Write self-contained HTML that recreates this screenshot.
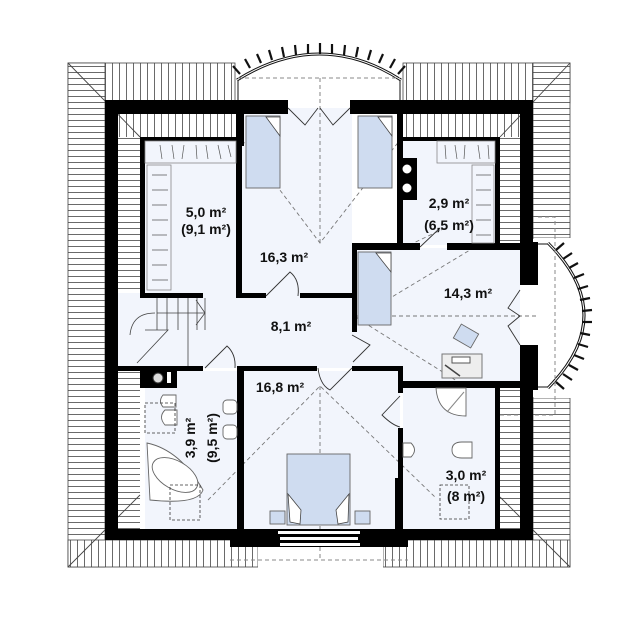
<!DOCTYPE html>
<html><head><meta charset="utf-8"><style>
html,body{margin:0;padding:0;background:#fff}
svg{display:block}
text{font-family:"Liberation Sans",sans-serif;font-weight:bold;font-size:14px;fill:#111}
</style></head><body>
<svg width="640" height="617" viewBox="0 0 640 617" xmlns="http://www.w3.org/2000/svg">
<defs>
<pattern id="vh" width="7" height="10" patternUnits="userSpaceOnUse"><rect width="7" height="10" fill="#fff"/><line x1="0.5" y1="0" x2="0.5" y2="10" stroke="#444" stroke-width="0.8"/></pattern>
<pattern id="hh" width="10" height="6" patternUnits="userSpaceOnUse"><rect width="10" height="6" fill="#fff"/><line x1="0" y1="0.5" x2="10" y2="0.5" stroke="#444" stroke-width="0.8"/></pattern>
</defs>
<rect x="68" y="63" width="167" height="40" fill="url(#vh)" stroke="#444" stroke-width="0.8"/>
<rect x="403" y="63" width="167" height="40" fill="url(#vh)" stroke="#444" stroke-width="0.8"/>
<rect x="68" y="63" width="37" height="504" fill="url(#hh)" stroke="#444" stroke-width="0.8"/>
<rect x="533" y="63" width="37" height="175" fill="url(#hh)" stroke="#444" stroke-width="0.8"/>
<rect x="533" y="398" width="37" height="169" fill="url(#hh)" stroke="#444" stroke-width="0.8"/>
<rect x="68" y="540" width="190" height="27" fill="url(#vh)" stroke="#444" stroke-width="0.8"/>
<rect x="383" y="540" width="187" height="27" fill="url(#vh)" stroke="#444" stroke-width="0.8"/>
<rect x="118" y="113" width="22" height="255" fill="url(#hh)"/>
<rect x="118" y="113" width="122" height="24" fill="url(#vh)"/>
<rect x="403" y="113" width="117" height="24" fill="url(#vh)"/>
<rect x="500" y="137" width="20" height="110" fill="url(#hh)"/>
<rect x="500" y="388" width="20" height="142" fill="url(#hh)"/>
<rect x="118" y="371" width="22" height="159" fill="url(#hh)"/>
<g stroke="#444" stroke-width="0.9" fill="none">
<line x1="68" y1="63" x2="140" y2="137"/>
<line x1="570" y1="63" x2="500" y2="137"/>
<line x1="68" y1="567" x2="140" y2="495"/>
<line x1="570" y1="567" x2="500" y2="497"/>
</g>
<rect x="236" y="64" width="166" height="38" fill="#fff"/>
<path d="M237 80 Q320 28 401 80" fill="none" stroke="#111" stroke-width="3"/>
<path d="M237 80 Q320 28 401 80" fill="none" stroke="#fff" stroke-width="1"/>
<g stroke="#111" stroke-width="2.2">
<line x1="240" y1="74" x2="233" y2="66"/><line x1="250" y1="68" x2="245" y2="59"/><line x1="261" y1="63" x2="257" y2="54"/><line x1="272" y1="60" x2="269" y2="50"/><line x1="284" y1="57" x2="282" y2="47"/><line x1="296" y1="55" x2="295" y2="45"/><line x1="308" y1="54" x2="308" y2="44"/><line x1="320" y1="54" x2="320" y2="43"/><line x1="332" y1="54" x2="332" y2="44"/><line x1="344" y1="55" x2="345" y2="45"/><line x1="356" y1="57" x2="358" y2="47"/><line x1="368" y1="60" x2="371" y2="50"/><line x1="379" y1="63" x2="383" y2="54"/><line x1="390" y1="68" x2="395" y2="59"/><line x1="398" y1="74" x2="405" y2="66"/>
</g>
<line x1="238" y1="78" x2="400" y2="78" stroke="#888" stroke-dasharray="4,3"/>
<line x1="238" y1="80" x2="238" y2="100" stroke="#111"/><line x1="400" y1="80" x2="400" y2="100" stroke="#111"/>
<rect x="534" y="238" width="40" height="160" fill="#fff"/>
<path d="M548 243 Q620 315 548 388" fill="none" stroke="#111" stroke-width="3"/>
<path d="M548 243 Q620 315 548 388" fill="none" stroke="#fff" stroke-width="1"/>
<g stroke="#111" stroke-width="2.2">
<line x1="556" y1="250" x2="564" y2="243"/><line x1="563" y1="259" x2="572" y2="253"/><line x1="569" y1="268" x2="578" y2="263"/><line x1="574" y1="278" x2="584" y2="274"/><line x1="578" y1="289" x2="588" y2="286"/><line x1="580" y1="300" x2="590" y2="298"/><line x1="582" y1="311" x2="592" y2="310"/><line x1="582" y1="322" x2="592" y2="322"/><line x1="580" y1="333" x2="590" y2="335"/><line x1="578" y1="344" x2="588" y2="347"/><line x1="574" y1="355" x2="584" y2="359"/><line x1="569" y1="365" x2="578" y2="370"/><line x1="563" y1="374" x2="572" y2="380"/><line x1="556" y1="382" x2="564" y2="389"/>
</g>
<line x1="538" y1="244" x2="548" y2="244" stroke="#111"/><line x1="538" y1="387" x2="548" y2="387" stroke="#111"/>
<path d="M538 217 H555 V415 H490" fill="none" stroke="#888" stroke-dasharray="4,3"/>
<rect x="258" y="546" width="125" height="22" fill="#fff"/>
<path d="M230 560 H408" fill="none" stroke="#888" stroke-dasharray="4,3"/>
<g fill="#f2f5fc">
<rect x="145" y="141" width="95" height="152"/>
<rect x="242" y="113" width="110" height="180"/>
<rect x="288" y="108" width="62" height="8"/>
<rect x="403" y="141" width="92" height="104"/>
<rect x="357" y="248" width="163" height="134"/>
<rect x="118" y="293" width="239" height="75"/>
<rect x="145" y="371" width="93" height="159"/>
<rect x="243" y="371" width="157" height="159"/>
<rect x="403" y="388" width="92" height="142"/>
</g>
<g stroke="#777" stroke-width="0.9" stroke-dasharray="4,3" fill="none">
<line x1="320" y1="78" x2="320" y2="243"/>
<path d="M242 140 L320 243 L400 140"/>
<path d="M357 318 L470 250"/><path d="M357 318 L468 388"/><line x1="357" y1="316" x2="538" y2="316"/>
<line x1="320" y1="386" x2="320" y2="560"/>
<path d="M208 500 L320 386 L435 497"/>
<path d="M403 248 L445 228"/>
</g>
<g fill="#000">
<rect x="105" y="101" width="13" height="439"/>
<rect x="105" y="100" width="183" height="14"/>
<rect x="350" y="100" width="183" height="14"/>
<rect x="520" y="100" width="13" height="185"/>
<rect x="520" y="242" width="18" height="43"/>
<rect x="520" y="345" width="18" height="45"/>
<rect x="520" y="390" width="13" height="150"/>
<rect x="105" y="529" width="428" height="11"/>
<rect x="230" y="529" width="178" height="18"/>
<rect x="236" y="113" width="6" height="182"/>
<rect x="236" y="113" width="8" height="33"/>
<rect x="140" y="137" width="100" height="4"/>
<rect x="140" y="137" width="5" height="160"/>
<rect x="140" y="293" width="63" height="5"/>
<rect x="236" y="293" width="30" height="5"/>
<rect x="300" y="293" width="57" height="5"/>
<rect x="352" y="247" width="5" height="85"/>
<rect x="397" y="113" width="6" height="137"/>
<rect x="397" y="158" width="20" height="42"/>
<rect x="403" y="137" width="94" height="4"/>
<rect x="495" y="137" width="5" height="111"/>
<rect x="352" y="243" width="68" height="7"/>
<rect x="447" y="243" width="91" height="7"/>
<rect x="118" y="366" width="85" height="5"/>
<rect x="140" y="366" width="37" height="22"/>
<rect x="237" y="366" width="80" height="5"/>
<rect x="352" y="366" width="51" height="5"/>
<rect x="237" y="366" width="7" height="164"/>
<rect x="398" y="366" width="5" height="27"/>
<rect x="398" y="381" width="140" height="7"/>
<rect x="398" y="428" width="5" height="102"/>
<rect x="395" y="478" width="8" height="52"/>
<rect x="495" y="384" width="5" height="146"/>
</g>
<circle cx="407" cy="169" r="5" fill="#fff" stroke="#000"/><circle cx="407" cy="188" r="5" fill="#fff" stroke="#000"/>
<circle cx="158" cy="378" r="5" fill="#ddd" stroke="#333"/><rect x="167" y="372" width="4" height="11" fill="#fff"/>
<g fill="#fff"><rect x="278" y="531" width="82" height="3"/><rect x="280" y="537" width="78" height="3"/><rect x="280" y="543" width="80" height="3"/></g>
<g stroke="#888" stroke-width="0.8" fill="#f2f5fc">
<rect x="145" y="141" width="91" height="22"/>
<rect x="147" y="165" width="24" height="125"/>
<rect x="437" y="141" width="58" height="22"/>
<rect x="472" y="165" width="22" height="78"/>
</g>
<g stroke="#555" stroke-width="0.7">
<path d="M160 145 l2 14 M172 145 l2 14 M184 145 l-2 14 M196 145 l1 14 M206 145 l2 14 M218 145 l3 14 M228 145 l3 12"/>
<path d="M152 175 h15 M152 190 h16 M152 205 h15 M152 220 h16 M152 235 h15 M152 250 h16 M152 265 h15 M152 280 h16"/>
<path d="M445 145 l1 14 M455 145 l2 14 M465 145 l-1 14 M478 145 l2 14 M488 145 l1 14"/>
<path d="M476 175 h15 M476 190 h15 M476 205 h15 M476 220 h15 M476 235 h15"/>
</g>
<g stroke="#444" stroke-width="0.8" fill="none">
<path d="M157 298 V330 M167 298 V330 M178 298 V330 M188 298 V330 M197 298 V330 M205 298 V330 M157 313 H205"/>
<path d="M196 300 L205 313 L196 325"/>
<path d="M130 335 Q132 313 155 313"/>
<path d="M145 330 H168 L137 363"/>
<line x1="188" y1="330" x2="188" y2="366"/>
</g>
<g stroke="#333" stroke-width="0.9" fill="none">
<path d="M266 296 L290 272 Q300 280 298 296"/>
<path d="M205 368 L227 346 Q236 354 235 368"/>
<path d="M352 335 L370 345 L353 362"/>
<path d="M318 368 Q320 385 330 390 L352 368"/>
<path d="M420 247 L440 228"/>
<path d="M400 396 L382 415 Q392 425 400 427"/>
<path d="M288 108 L305 125 L318 108 M350 108 L333 125 L320 108"/>
<path d="M520 290 L508 308 L520 316 L508 326 L520 345"/>
</g>
<g fill="#cfdcf0" stroke="#666" stroke-width="0.9">
<rect x="246" y="116" width="34" height="72"/>
<rect x="358" y="116" width="34" height="72"/>
<rect x="358" y="252" width="33" height="73"/>
<rect x="287" y="454" width="63" height="71"/>
<rect x="270" y="511" width="15" height="13"/>
<rect x="355" y="511" width="15" height="13"/>
<rect x="456" y="328" width="20" height="16" transform="rotate(30 466 336)"/>
</g>
<g fill="#fff" stroke="#444" stroke-width="0.8">
<path d="M266 117 L280 117 L280 136 Z"/>
<path d="M378 117 L392 117 L392 136 Z"/>
<path d="M376 253 L391 253 L391 272 Z"/>
<path d="M288 494 L301 510 L300 524 L290 522 Z"/>
<path d="M349 494 L336 510 L338 524 L348 522 Z"/>
</g>
<rect x="442" y="354" width="40" height="24" fill="#eee" stroke="#777"/>
<line x1="445" y1="365" x2="460" y2="376" stroke="#444" stroke-width="1.5"/>
<rect x="452" y="357" width="18" height="6" fill="#fff" stroke="#555"/>
<g fill="#fff" stroke="#666" stroke-width="0.9">
<path d="M163 395 h13 v12 h-13 q-5 -6 0 -12z"/>
<path d="M165 410 h12 v15 h-12 q-7 -8 0 -15z"/>
<rect x="223" y="400" width="14" height="14" rx="4"/>
<rect x="223" y="425" width="14" height="14" rx="4"/>
<path d="M147 443 Q180 450 203 490 Q198 505 150 500 Z"/>
<ellipse cx="175" cy="475" rx="25" ry="14" transform="rotate(30 175 475)"/>
<path d="M466 388 v28 q-28 0 -30 -28 z"/>
<path d="M472 442 h-10 q-10 0 -10 8 q0 8 10 8 h10z"/>
<path d="M403 443 h8 q7 7 0 14 h-8z"/>
</g>
<line x1="447" y1="412" x2="464" y2="392" stroke="#888"/>
<g fill="none" stroke="#333" stroke-dasharray="3,2" stroke-width="0.8">
<rect x="145" y="403" width="30" height="30"/>
<rect x="170" y="485" width="30" height="35"/>
<rect x="440" y="485" width="29" height="34"/>
</g>
<text x="206" y="217" text-anchor="middle">5,0 m²</text>
<text x="206" y="234" text-anchor="middle">(9,1 m²)</text>
<text x="284" y="262" text-anchor="middle">16,3 m²</text>
<text x="449" y="208" text-anchor="middle">2,9 m²</text>
<text x="449" y="230" text-anchor="middle">(6,5 m²)</text>
<text x="468" y="298" text-anchor="middle">14,3 m²</text>
<text x="291" y="331" text-anchor="middle">8,1 m²</text>
<text x="280" y="392" text-anchor="middle">16,8 m²</text>
<text transform="translate(195 438) rotate(-90)" text-anchor="middle">3,9 m²</text>
<text transform="translate(217 438) rotate(-90)" text-anchor="middle">(9,5 m²)</text>
<text x="466" y="480" text-anchor="middle">3,0 m²</text>
<text x="466" y="501" text-anchor="middle">(8 m²)</text>
</svg>
</body></html>
